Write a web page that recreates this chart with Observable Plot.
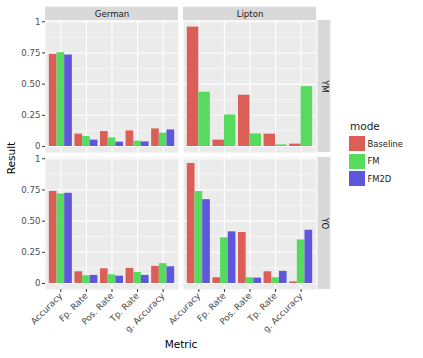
<!DOCTYPE html>
<html>
<head>
<meta charset="utf-8">
<script src="https://cdn.jsdelivr.net/npm/d3@7"></script>
<script src="https://cdn.jsdelivr.net/npm/@observablehq/plot@0.6"></script>
<style>
  html, body { margin: 0; padding: 0; background: #fff; }
  #wrap { position: relative; width: 423px; height: 358px; font-family: "DejaVu Sans", sans-serif; }
  #wrap svg { position: absolute; left: 0; top: 0; }
  .title { position: absolute; color: #000; font-size: 10.5px; white-space: nowrap; }
  #legend { position: absolute; left: 349px; top: 120px; font-size: 8.4px; color: #1a1a1a; }
  #legend .lt { font-size: 10.5px; margin-bottom: 3px; margin-left: 1px; }
  #legend .row { display: flex; align-items: center; height: 17.5px; }
  #legend .sw { width: 15.5px; height: 15px; margin-right: 3px; }
</style>
</head>
<body>
<div id="wrap">
  <div class="title" id="xt" style="left:181px; top:338px; transform:translateX(-50%);">Metric</div>
  <div class="title" id="yt" style="left:11px; top:158px; transform:translate(-50%,-50%) rotate(-90deg);">Result</div>
  <div id="legend"></div>
</div>
<script>
const datasets = ["German", "Lipton"];
const groups = ["YM", "YO"];
const metrics = ["Accuracy", "Fp. Rate", "Pos. Rate", "Tp. Rate", "g. Accuracy"];
const modes = ["Baseline", "FM", "FM2D"];
const modeColors = ["#db5f57", "#57db5f", "#5f57db"];
const yTicks = [0, 0.25, 0.5, 0.75, 1];
const yTickLabels = ["0", "0.25", "0.50", "0.75", "1"];
const yMinorTicks = [0.125, 0.375, 0.625, 0.875];

// German / YM
const germanYMBaseline = [0.739, 0.099, 0.120, 0.125, 0.141];
const germanYMFM       = [0.752, 0.080, 0.069, 0.043, 0.107];
const germanYMFM2D     = [0.733, 0.051, 0.035, 0.037, 0.133];
// Lipton / YM (no FM2D results)
const liptonYMBaseline = [0.957, 0.051, 0.411, 0.099, 0.019];
const liptonYMFM       = [0.435, 0.253, 0.101, 0.013, 0.480];
const liptonYMFM2D     = null;
// German / YO
const germanYOBaseline = [0.739, 0.094, 0.118, 0.121, 0.137];
const germanYOFM       = [0.718, 0.062, 0.070, 0.089, 0.159];
const germanYOFM2D     = [0.723, 0.065, 0.059, 0.065, 0.134];
// Lipton / YO
const liptonYOBaseline = [0.962, 0.046, 0.409, 0.094, 0.013];
const liptonYOFM       = [0.737, 0.366, 0.046, 0.046, 0.349];
const liptonYOFM2D     = [0.672, 0.414, 0.043, 0.097, 0.427];

const panels = [
  {dataset: "German", group: "YM", series: [germanYMBaseline, germanYMFM, germanYMFM2D]},
  {dataset: "Lipton", group: "YM", series: [liptonYMBaseline, liptonYMFM, liptonYMFM2D]},
  {dataset: "German", group: "YO", series: [germanYOBaseline, germanYOFM, germanYOFM2D]},
  {dataset: "Lipton", group: "YO", series: [liptonYOBaseline, liptonYOFM, liptonYOFM2D]}
];

// dodge like ggplot: 0.9 of each metric slot shared by the modes present in the panel
const rows = [];
for (const p of panels) {
  const present = modes.map((m, j) => ({m, vals: p.series[j]})).filter(d => d.vals);
  const n = present.length;
  present.forEach((d, k) => {
    d.vals.forEach((v, i) => {
      const x1 = (i + 1) - 0.45 + k * 0.9 / n;
      rows.push({dataset: p.dataset, group: p.group, metric: metrics[i], mode: d.m, value: v, x1, x2: x1 + 0.9 / n});
    });
  });
}

const stripTop = datasets.map(d => ({dataset: d, group: groups[0]}));
const stripRight = groups.map(g => ({dataset: datasets[datasets.length - 1], group: g}));

const xDomain = [0.4, 5.6];
const yDomain = [-0.048, 1.01];

const chart = Plot.plot({
  width: 423,
  height: 358,
  marginLeft: 45,
  marginRight: 106.3,
  marginTop: 20,
  marginBottom: 69,
  style: {fontFamily: "DejaVu Sans, sans-serif", background: "transparent", overflow: "visible"},
  x: {domain: xDomain},
  y: {domain: yDomain},
  fx: {domain: datasets, axis: null, paddingInner: 0.036, paddingOuter: 0},
  fy: {domain: groups, axis: null, paddingInner: 0.037, paddingOuter: 0},
  color: {domain: modes, range: modeColors},
  marks: [
    Plot.frame({fill: "#ebebeb", stroke: null}),
    Plot.ruleY(yMinorTicks, {stroke: "white", strokeWidth: 0.5}),
    Plot.ruleY(yTicks, {stroke: "white", strokeWidth: 1.1}),
    Plot.ruleX([1, 2, 3, 4, 5], {stroke: "white", strokeWidth: 1.1}),
    Plot.rect(rows, {fx: "dataset", fy: "group", x1: "x1", x2: "x2", y1: 0, y2: "value", fill: "mode"}),
    // strips
    Plot.rect(stripTop, {fx: "dataset", fy: "group", x1: xDomain[0], x2: xDomain[1], y1: yDomain[1], y2: yDomain[1], insetTop: -13.3, fill: "#d9d9d9"}),
    Plot.text(stripTop, {fx: "dataset", fy: "group", text: "dataset", frameAnchor: "top", dy: -6.7, textAnchor: "middle", lineAnchor: "middle", fontSize: 8.6, fill: "#1a1a1a"}),
    Plot.rect(stripRight, {fx: "dataset", fy: "group", x1: xDomain[1], x2: xDomain[1], y1: yDomain[0], y2: yDomain[1], insetLeft: 1.5, insetRight: -14.3, fill: "#d9d9d9"}),
    Plot.text(stripRight, {fx: "dataset", fy: "group", text: "group", frameAnchor: "right", dx: 8, rotate: 90, textAnchor: "middle", lineAnchor: "middle", fontSize: 8.6, fill: "#1a1a1a"}),
    // axes
    Plot.axisY({ticks: yTicks, tickFormat: d => yTickLabels[yTicks.indexOf(d)], tickSize: 3, tickPadding: 2, fontSize: 8.6, fill: "#4d4d4d", stroke: "#333", label: null}),
    Plot.axisX({ticks: [1, 2, 3, 4, 5], tickFormat: d => metrics[d - 1], tickRotate: -45, tickSize: 3, tickPadding: 2, fontSize: 8.8, fill: "#4d4d4d", stroke: "#333", label: null})
  ]
});

const wrap = document.getElementById("wrap");
wrap.insertBefore(chart, wrap.firstChild);

const legend = document.getElementById("legend");
const lt = document.createElement("div");
lt.className = "lt";
lt.textContent = "mode";
legend.appendChild(lt);
modes.forEach((m, i) => {
  const row = document.createElement("div");
  row.className = "row";
  const sw = document.createElement("div");
  sw.className = "sw";
  sw.style.background = modeColors[i];
  const lab = document.createElement("span");
  lab.textContent = m;
  row.appendChild(sw);
  row.appendChild(lab);
  legend.appendChild(row);
});
</script>
</body>
</html>
